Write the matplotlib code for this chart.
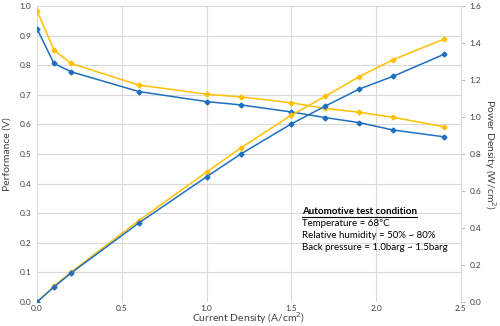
import matplotlib
matplotlib.use("Agg")
import matplotlib.pyplot as plt
from matplotlib.lines import Line2D

# current density (A/cm2)
current = [0.0, 0.1, 0.2, 0.6, 1.0, 1.2, 1.5, 1.7, 1.9, 2.1, 2.4]

# cell voltage (V)
volt_blue = [0.923, 0.806, 0.778, 0.711, 0.677, 0.666, 0.642, 0.623, 0.606, 0.581, 0.558]
volt_yellow = [0.984, 0.851, 0.806, 0.733, 0.702, 0.693, 0.673, 0.654, 0.641, 0.624, 0.592]

# power density (W/cm2)
power_blue = [0.0, 0.081, 0.156, 0.427, 0.677, 0.799, 0.963, 1.059, 1.151, 1.220, 1.339]
power_yellow = [0.0, 0.085, 0.161, 0.440, 0.702, 0.832, 1.010, 1.112, 1.218, 1.310, 1.421]

BLUE = "#1f6fc0"
YELLOW = "#ffc000"
TXT = "#404040"
plt.rcParams["font.family"] = ["Lato", "DejaVu Sans"]

fig = plt.figure(figsize=(5, 3.26), dpi=100)
ax = fig.add_axes([0.074, 0.0736, 0.848, 0.908])
ax2 = ax.twinx()

ax.plot(current, volt_yellow, color=YELLOW, lw=1.1, marker="D", ms=2.5)
ax.plot(current, volt_blue, color=BLUE, lw=1.1, marker="D", ms=2.5)
ax2.plot(current, power_yellow, color=YELLOW, lw=1.1, marker="D", ms=2.5)
ax2.plot(current, power_blue, color=BLUE, lw=1.1, marker="D", ms=2.5)

ax.set_xlim(0, 2.5)
ax.set_ylim(0, 1.0)
ax2.set_ylim(0, 1.6)
ax.set_xticks([0, 0.5, 1.0, 1.5, 2.0, 2.5])
ax.set_yticks([i / 10 for i in range(11)])
ax2.set_yticks([i / 5 for i in range(9)])
ax.set_xticklabels([f"{v:.1f}" for v in ax.get_xticks()])
ax.set_yticklabels([f"{v:.1f}" for v in ax.get_yticks()])
ax2.set_yticklabels([f"{v:.1f}" for v in ax2.get_yticks()])

ax.grid(True, color="#d9d9d9", lw=0.8)
ax.set_axisbelow(True)
for a in (ax, ax2):
    for s in a.spines.values():
        s.set_visible(False)
ax2.spines["right"].set_visible(True)
ax2.spines["right"].set_color("#d9d9d9")
ax.tick_params(axis="y", length=0, labelsize=6, colors=TXT, pad=4)
ax.tick_params(axis="x", length=0, labelsize=6, colors=TXT, pad=2)
ax2.tick_params(axis="y", length=3, color="#bfbfbf", labelsize=6, labelcolor=TXT, pad=3)

ax.set_xlabel("Current Density (A/cm$^2$)", fontsize=7.5, color=TXT, labelpad=-1)
ax.set_ylabel("Performance (V)", fontsize=7.5, color=TXT, labelpad=6)
ax2.set_ylabel("Power Density (W/cm$^2$)", fontsize=7.5, color=TXT, rotation=270, labelpad=12)

# annotation box
tx, ty = 0.604, 0.344
t = fig.text(tx, ty, "Automotive test condition", fontsize=7, fontweight="bold", color="black")
lines = ["Temperature = 68ºC", "Relative humidity = 50% ~ 80%", "Back pressure = 1.0barg ~ 1.5barg"]
for i, s in enumerate(lines):
    fig.text(tx, ty - 0.037 * (i + 1), s, fontsize=7, color="black")
fig.canvas.draw()
bb = t.get_window_extent().transformed(fig.transFigure.inverted())
fig.add_artist(Line2D([bb.x0, bb.x1], [bb.y0 - 0.002, bb.y0 - 0.002], color="black", lw=0.8))

fig.savefig("out.png", dpi=100)
